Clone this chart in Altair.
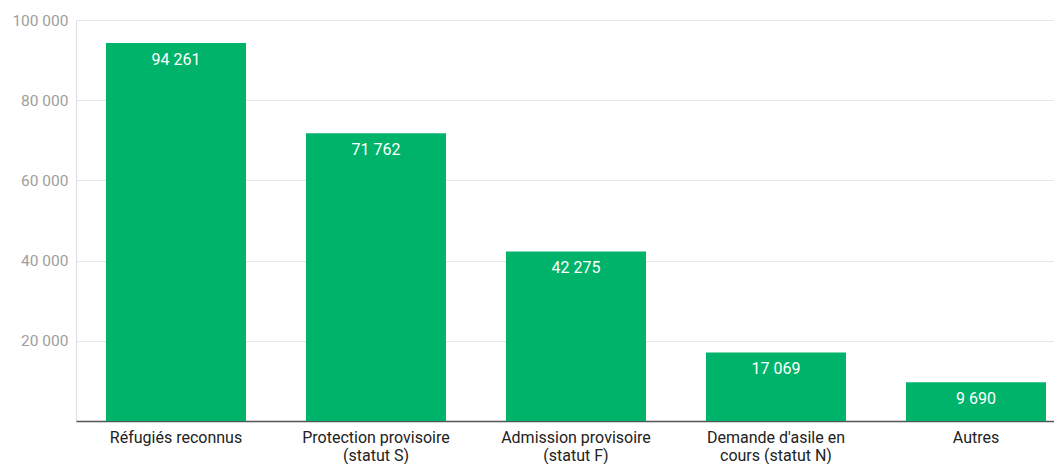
import altair as alt
import pandas as pd

categories = [
    "Réfugiés reconnus",
    "Protection provisoire (statut S)",
    "Admission provisoire (statut F)",
    "Demande d'asile en cours (statut N)",
    "Autres",
]
label_lines = [
    ["Réfugiés reconnus"],
    ["Protection provisoire", "(statut S)"],
    ["Admission provisoire", "(statut F)"],
    ["Demande d'asile en", "cours (statut N)"],
    ["Autres"],
]
values = [94261, 71762, 42275, 17069, 9690]
y_ticks = [20000, 40000, 60000, 80000, 100000]

df = pd.DataFrame({"cat": categories, "value": values})

label_map = "{" + ", ".join(
    "'" + c.replace("'", "\\'") + "': [" + ", ".join("'" + l.replace("'", "\\'") + "'" for l in ls) + "]"
    for c, ls in zip(categories, label_lines)
) + "}"

FONT = "Roboto"
GREEN = "#00b36a"

x = alt.X(
    "cat:N",
    sort=categories,
    title=None,
    scale=alt.Scale(paddingInner=0.3, paddingOuter=0.095, align=0.789),
    axis=alt.Axis(
        labelAngle=0,
        labelFont=FONT,
        labelFontSize=16,
        labelColor="#222222",
        labelPadding=8,
        labelLineHeight=18,
        labelBaseline="top",
        ticks=False,
        domainColor="#555555",
        domainWidth=1.5,
        labelExpr=label_map + "[datum.value]",
        labelLimit=300,
    ),
)

y = alt.Y(
    "value:Q",
    title=None,
    scale=alt.Scale(domain=[0, 100000], nice=False),
    axis=alt.Axis(
        values=y_ticks,
        labelFont=FONT,
        labelFontSize=15.5,
        labelColor="#9e9e9e",
        labelPadding=8,
        ticks=False,
        domain=False,
        gridColor="#e6e6e6",
        gridWidth=1,
        labelExpr="replace(format(datum.value, ',d'), ',', ' ')",
    ),
)

bars = alt.Chart(df).mark_bar(color=GREEN).encode(x=x, y=y)

text = (
    alt.Chart(df)
    .transform_calculate(lbl="replace(format(datum.value, ',d'), ',', ' ')")
    .mark_text(
        color="white",
        font=FONT,
        fontSize=16,
        baseline="middle",
        dy=16.5,
    )
    .encode(x=alt.X("cat:N", sort=categories), y="value:Q", text="lbl:N")
)

chart = (
    alt.layer(bars, text)
    .properties(
        width=978,
        height=401,
        autosize=alt.AutoSizeParams(type="none"),
        padding={"left": 68, "top": 12, "right": 0, "bottom": 44},
    )
    .configure_view(stroke=None)
    .configure(background="white")
)

chart.save("out.html", embed_options={"renderer": "svg", "actions": False})
